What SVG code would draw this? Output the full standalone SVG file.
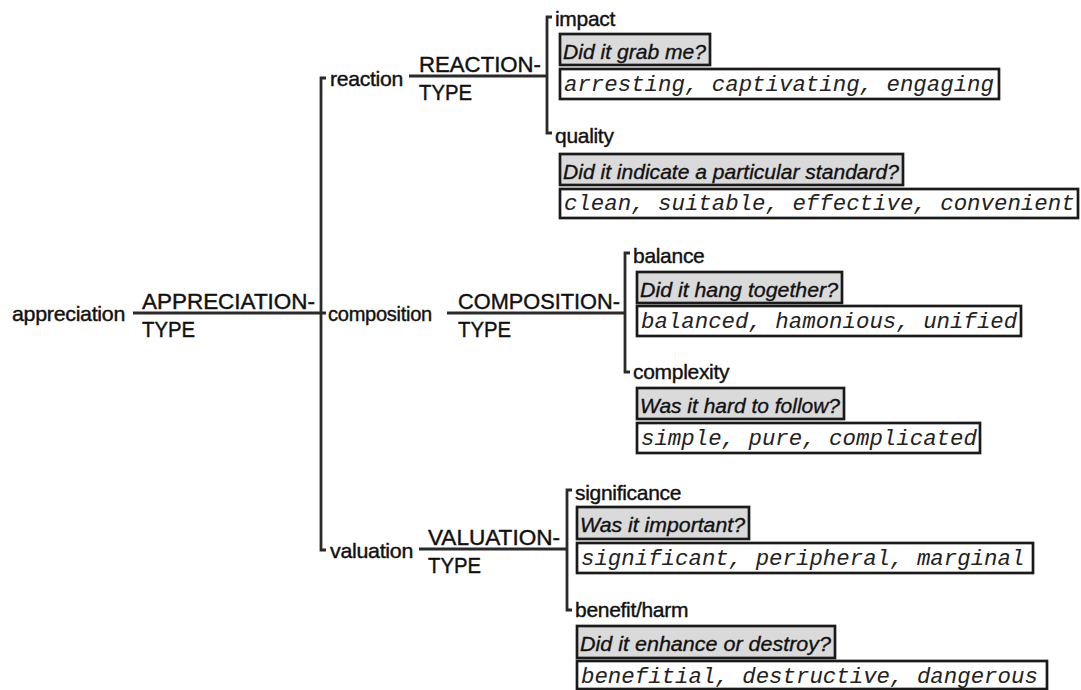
<svg xmlns="http://www.w3.org/2000/svg" width="1081" height="690" viewBox="0 0 1081 690">
  <style>
    .lbl { font-family: "Liberation Sans", Arial, sans-serif; font-size: 21px; fill: #111; stroke: #111; stroke-width: 0.4; letter-spacing: -0.3px; }
    .cap { font-family: "Liberation Sans", Arial, sans-serif; font-size: 21.5px; fill: #111; stroke: #111; stroke-width: 0.4; }
    .q { font-family: "Liberation Sans", Arial, sans-serif; font-size: 21px; font-style: italic; fill: #111; stroke: #111; stroke-width: 0.35; }
    .ex { font-family: "Liberation Mono", "Courier New", monospace; font-size: 22.4px; font-style: italic; fill: #222; }
    .qbox { fill: #dadada; stroke: #1a1a1a; stroke-width: 2.7; }
    .exbox { fill: #ffffff; stroke: #1a1a1a; stroke-width: 2.7; }
    .wire { fill: none; stroke: #2a2a2a; stroke-width: 2.8; }
  </style>
  <rect width="1081" height="690" fill="#ffffff"/>

  <!-- system network lines -->
  <g id="connectors">
    <!-- appreciation entry -->
    <path class="wire" d="M133 313 H326"/>
    <!-- main bracket -->
    <path class="wire" d="M326 78 H321 V550 H326"/>
    <!-- subsystem entries -->
    <path class="wire" d="M409 76 H547"/>
    <path class="wire" d="M447 313 H625"/>
    <path class="wire" d="M419 549 H567"/>
    <!-- subsystem brackets -->
    <path class="wire" d="M552 17 H547 V133 H552"/>
    <path class="wire" d="M630 253 H625 V372 H630"/>
    <path class="wire" d="M572 490 H567 V610 H572"/>
  </g>

  <g id="appreciation">
    <text class="lbl" x="12" y="321" textLength="113" lengthAdjust="spacingAndGlyphs">appreciation</text>
    <text class="cap" x="142" y="309" textLength="173" lengthAdjust="spacingAndGlyphs">APPRECIATION-</text>
    <text class="cap" x="142" y="337" textLength="53" lengthAdjust="spacingAndGlyphs">TYPE</text>
  </g>

  <g id="reaction">
    <text class="lbl" x="330" y="86" textLength="73" lengthAdjust="spacingAndGlyphs">reaction</text>
    <text class="cap" x="419" y="72" textLength="122" lengthAdjust="spacingAndGlyphs">REACTION-</text>
    <text class="cap" x="419" y="100" textLength="53" lengthAdjust="spacingAndGlyphs">TYPE</text>
  </g>

  <g id="composition">
    <text class="lbl" x="328" y="321" textLength="104" lengthAdjust="spacingAndGlyphs">composition</text>
    <text class="cap" x="458" y="309" textLength="162" lengthAdjust="spacingAndGlyphs">COMPOSITION-</text>
    <text class="cap" x="458" y="337" textLength="53" lengthAdjust="spacingAndGlyphs">TYPE</text>
  </g>

  <g id="valuation">
    <text class="lbl" x="330" y="558" textLength="83" lengthAdjust="spacingAndGlyphs">valuation</text>
    <text class="cap" x="428" y="545" textLength="132" lengthAdjust="spacingAndGlyphs">VALUATION-</text>
    <text class="cap" x="428" y="573" textLength="53" lengthAdjust="spacingAndGlyphs">TYPE</text>
  </g>

  <g id="impact">
    <text class="lbl" x="555" y="26">impact</text>
    <rect class="qbox" x="560" y="34" width="150" height="31"/>
    <text class="q" x="563" y="59" textLength="143" lengthAdjust="spacingAndGlyphs">Did it grab me?</text>
    <rect class="exbox" x="560" y="69" width="439" height="30"/>
    <text class="ex" x="564" y="91">arresting, captivating, engaging</text>
  </g>

  <g id="quality">
    <text class="lbl" x="555" y="143">quality</text>
    <rect class="qbox" x="560" y="154" width="343" height="31"/>
    <text class="q" x="563" y="179" textLength="336" lengthAdjust="spacingAndGlyphs">Did it indicate a particular standard?</text>
    <rect class="exbox" x="560" y="189" width="518" height="29"/>
    <text class="ex" x="564" y="210">clean, suitable, effective, convenient</text>
  </g>

  <g id="balance">
    <text class="lbl" x="633" y="263">balance</text>
    <rect class="qbox" x="637" y="272" width="205" height="31"/>
    <text class="q" x="640" y="297" textLength="198" lengthAdjust="spacingAndGlyphs">Did it hang together?</text>
    <rect class="exbox" x="637" y="306" width="384" height="30"/>
    <text class="ex" x="641" y="328">balanced, hamonious, unified</text>
  </g>

  <g id="complexity">
    <text class="lbl" x="633" y="379">complexity</text>
    <rect class="qbox" x="637" y="388" width="207" height="31"/>
    <text class="q" x="640" y="413" textLength="200" lengthAdjust="spacingAndGlyphs">Was it hard to follow?</text>
    <rect class="exbox" x="637" y="423" width="343" height="30"/>
    <text class="ex" x="641" y="445">simple, pure, complicated</text>
  </g>

  <g id="significance">
    <text class="lbl" x="575" y="500">significance</text>
    <rect class="qbox" x="577" y="507" width="172" height="32"/>
    <text class="q" x="580" y="532" textLength="165" lengthAdjust="spacingAndGlyphs">Was it important?</text>
    <rect class="exbox" x="577" y="543" width="456" height="30"/>
    <text class="ex" x="581" y="565">significant, peripheral, marginal</text>
  </g>

  <g id="benefit-harm">
    <text class="lbl" x="575" y="617">benefit/harm</text>
    <rect class="qbox" x="577" y="626" width="258" height="32"/>
    <text class="q" x="580" y="651" textLength="251" lengthAdjust="spacingAndGlyphs">Did it enhance or destroy?</text>
    <rect class="exbox" x="577" y="661" width="470" height="28"/>
    <text class="ex" x="581" y="683">benefitial, destructive, dangerous</text>
  </g>
</svg>
